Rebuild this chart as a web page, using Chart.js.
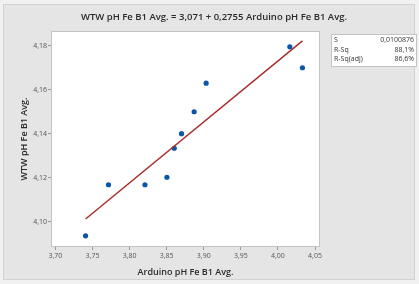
<!DOCTYPE html>
<html>
<head>
<meta charset="utf-8">
<script src="https://cdn.jsdelivr.net/npm/chart.js@4/dist/chart.umd.min.js"></script>
<style>
  html, body { margin: 0; padding: 0; background: #f1f1f1; }
  canvas { display: block; }
</style>
</head>
<body>
<canvas id="fit" width="419" height="284"></canvas>
<script>
const arduinoPh = [3.7406, 3.7715, 3.8207, 3.8503, 3.8602, 3.870, 3.887, 3.9032, 4.016, 4.033];
const wtwPh = [4.0936, 4.1168, 4.1168, 4.1202, 4.1334, 4.140, 4.150, 4.163, 4.1795, 4.170];

// fitted line end points
const fitX = [3.7406, 4.033];
const fitY = [4.1012, 4.1822];

const xTicks = [3.70, 3.75, 3.80, 3.85, 3.90, 3.95, 4.00, 4.05];
const yTicks = [4.10, 4.12, 4.14, 4.16, 4.18];

const chartTitle = 'WTW pH Fe B1 Avg. = 3,071 + 0,2755 Arduino pH Fe B1 Avg.';
const statLabels = ['S', 'R-Sq', 'R-Sq(adj)'];
const statValues = ['0,0100876', '88,1%', '86,6%'];

const FONT = "'Open Sans', 'Noto Sans', sans-serif";
const comma = v => v.toFixed(2).replace('.', ',');

const frame = {
  id: 'frame',
  beforeDraw(chart) {
    const ctx = chart.ctx;
    ctx.save();
    ctx.fillStyle = '#f1f1f1';
    ctx.fillRect(0, 0, chart.width, chart.height);
    ctx.fillStyle = '#e5e5e5';
    ctx.fillRect(3, 4, 412, 276);
    ctx.strokeStyle = '#d2d2d2';
    ctx.lineWidth = 1;
    ctx.strokeRect(3.5, 4.5, 411, 275);
    const a = chart.chartArea;
    ctx.fillStyle = '#ffffff';
    ctx.fillRect(a.left, a.top, a.right - a.left, a.bottom - a.top);
    ctx.restore();
  },
  afterDraw(chart) {
    const ctx = chart.ctx;
    const a = chart.chartArea;
    ctx.save();
    ctx.strokeStyle = '#c4c4c4';
    ctx.lineWidth = 1;
    ctx.strokeRect(Math.round(a.left) + 0.5, Math.round(a.top) + 0.5,
      Math.round(a.right - a.left) - 1, Math.round(a.bottom - a.top) - 1);
    // title
    ctx.font = '600 9.5px ' + FONT;
    ctx.fillStyle = '#2a2a2a';
    ctx.textAlign = 'center';
    ctx.textBaseline = 'middle';
    ctx.fillText(chartTitle, 214, 17);
    // stats box
    ctx.fillStyle = '#ffffff';
    ctx.fillRect(331, 34, 86, 33);
    ctx.strokeStyle = '#c4c4c4';
    ctx.strokeRect(331.5, 34.5, 85, 32);
    ctx.font = '7px ' + FONT;
    ctx.fillStyle = '#333333';
    statLabels.forEach((s, i) => {
      const y = 40 + i * 9.5;
      ctx.textAlign = 'left';
      ctx.fillText(s, 334, y);
      ctx.textAlign = 'right';
      ctx.fillText(statValues[i], 414, y);
    });
    ctx.restore();
  }
};

new Chart(document.getElementById('fit'), {
  type: 'scatter',
  data: {
    datasets: [
      {
        label: 'fit',
        type: 'line',
        data: fitX.map((x, i) => ({ x: x, y: fitY[i] })),
        borderColor: '#a82a2a',
        borderWidth: 1.4,
        pointRadius: 0,
        fill: false
      },
      {
        label: 'data',
        data: arduinoPh.map((x, i) => ({ x: x, y: wtwPh[i] })),
        backgroundColor: '#0a56a8',
        borderColor: '#0a56a8',
        pointRadius: 2.6,
        pointBorderWidth: 0
      }
    ]
  },
  options: {
    responsive: false,
    animation: false,
    layout: { padding: { left: 0, top: 31, right: 99, bottom: 0 } },
    plugins: {
      legend: { display: false },
      tooltip: { enabled: false },
      title: { display: false }
    },
    scales: {
      x: {
        type: 'linear',
        min: 3.694,
        max: 4.0567,
        afterBuildTicks: s => { s.ticks = xTicks.map(v => ({ value: v })); },
        afterFit: s => { s.height = 37; },
        grid: { drawOnChartArea: false, drawTicks: true, tickLength: 3, color: '#9a9a9a' },
        border: { display: false },
        ticks: { color: '#555555', font: { family: FONT, size: 7 }, padding: 1.5, maxRotation: 0, callback: v => comma(v) },
        title: {
          display: true,
          text: 'Arduino pH Fe B1 Avg.',
          color: '#2a2a2a',
          font: { family: FONT, size: 9, weight: '600', lineHeight: 1.2 },
          padding: { top: 0, bottom: 6.6 }
        }
      },
      y: {
        type: 'linear',
        min: 4.0885,
        max: 4.1867,
        afterBuildTicks: s => { s.ticks = yTicks.map(v => ({ value: v })); },
        afterFit: s => { s.width = 51; },
        grid: { drawOnChartArea: false, drawTicks: true, tickLength: 3, color: '#9a9a9a' },
        border: { display: false },
        ticks: { color: '#555555', font: { family: FONT, size: 7 }, padding: 1, callback: v => comma(v) },
        title: {
          display: true,
          text: 'WTW pH Fe B1 Avg.',
          color: '#2a2a2a',
          font: { family: FONT, size: 9, weight: '600', lineHeight: 1.2 },
          padding: { top: 19, bottom: 0 }
        }
      }
    }
  },
  plugins: [frame]
});
</script>
</body>
</html>
